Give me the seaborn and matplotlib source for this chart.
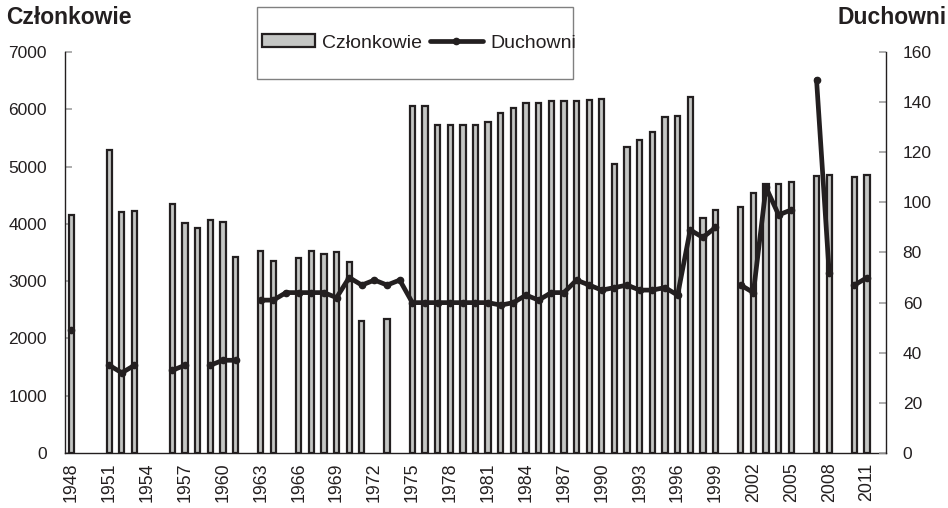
import numpy as np
import pandas as pd
import matplotlib
matplotlib.use("Agg")
import matplotlib.pyplot as plt
from matplotlib.patches import Rectangle
from matplotlib.lines import Line2D
import seaborn as sns

# data (NaN = no value that year)
years = list(range(1948, 2013))

czlonkowie_years = [1948, 1951, 1952, 1953, 1956, 1957, 1958, 1959, 1960, 1961,
                    1963, 1964, 1966, 1967, 1968, 1969, 1970, 1971, 1973,
                    1975, 1976, 1977, 1978, 1979, 1980, 1981, 1982, 1983, 1984,
                    1985, 1986, 1987, 1988, 1989, 1990, 1991, 1992, 1993, 1994,
                    1995, 1996, 1997, 1998, 1999, 2001, 2002, 2003, 2004, 2005,
                    2007, 2008, 2010, 2011]
czlonkowie = [4150, 5290, 4200, 4230, 4340, 4010, 3920, 4060, 4030, 3420,
              3530, 3360, 3410, 3530, 3480, 3510, 3330, 2300, 2340,
              6060, 6060, 5730, 5730, 5730, 5730, 5770, 5930, 6030, 6110,
              6110, 6140, 6150, 6150, 6160, 6180, 5040, 5340, 5460, 5600,
              5870, 5890, 6220, 4100, 4240, 4300, 4540, 4690, 4690, 4730,
              4830, 4860, 4820, 4860]

duchowni_years = [1948, 1951, 1952, 1953, 1956, 1957, 1959, 1960, 1961,
                  1963, 1964, 1965, 1966, 1967, 1968, 1969, 1970, 1971, 1972,
                  1973, 1974, 1975, 1976, 1977, 1978, 1979, 1980, 1981, 1982,
                  1983, 1984, 1985, 1986, 1987, 1988, 1989, 1990, 1991, 1992,
                  1993, 1994, 1995, 1996, 1997, 1998, 1999, 2001, 2002, 2003,
                  2004, 2005, 2007, 2008, 2010, 2011]
duchowni = [49, 35, 32, 35, 33, 35, 35, 37, 37,
            61, 61, 64, 64, 64, 64, 62, 70, 67, 69,
            67, 69, 60, 60, 60, 60, 60, 60, 60, 59,
            60, 63, 61, 64, 64, 69, 67, 65, 66, 67,
            65, 65, 66, 63, 89, 86, 90, 67, 64, 106,
            95, 97, 149, 72, 67, 70]

df = pd.DataFrame({"rok": [str(y) for y in years]})
df["Członkowie"] = pd.Series(czlonkowie, index=czlonkowie_years).reindex(years).values
df["Duchowni"] = pd.Series(duchowni, index=duchowni_years).reindex(years).values

INK = "#231f20"
GRAY_TICK = "#a0a0a0"
BAR_FILL = "#c4c6c4"

sns.set_theme(style="white")
plt.rcParams["font.family"] = ["Liberation Sans", "DejaVu Sans"]

fig = plt.figure(figsize=(9.48, 5.08), dpi=100)
ax = fig.add_axes([65 / 948, 55 / 508, (886 - 65) / 948, (453 - 52) / 508])

sns.barplot(data=df, x="rok", y="Członkowie", order=df["rok"].tolist(), ax=ax,
            color=BAR_FILL, saturation=1, edgecolor=INK, linewidth=1.6,
            width=0.42, errorbar=None)

ax.set_xlim(-0.5, len(years) - 0.5)
ax.set_ylim(0, 7000)
ax.set_yticks(np.arange(0, 7001, 1000))
ax.set_xlabel("")
ax.set_ylabel("")

pos = np.arange(len(years))
ax.set_xticks(pos[::3])
ax.set_xticklabels(df["rok"].tolist()[::3], rotation=90)
ax.set_xticks(np.arange(-0.5, len(years), 1), minor=True)
ax.tick_params(axis="x", which="major", length=0, pad=7, labelsize=12.8, labelcolor=INK)
ax.tick_params(axis="x", which="minor", length=6, direction="inout", color=GRAY_TICK, width=1)
ax.tick_params(axis="y", which="major", left=True, direction="in", length=5, color=GRAY_TICK,
               width=1.2, pad=13, labelsize=12.5, labelcolor=INK)

ax2 = ax.twinx()
ax2.plot(pos, df["Duchowni"].values, color=INK, linewidth=3.4, marker="o", markersize=4.5,
         solid_joinstyle="round", solid_capstyle="round")
ax2.set_ylim(0, 160)
ax2.set_yticks(np.arange(0, 161, 20))
ax2.tick_params(axis="y", which="major", right=True, direction="in", length=5, color=GRAY_TICK,
                width=1.2, pad=12, labelsize=12.5, labelcolor=INK)
ax2.grid(False)

for a in (ax, ax2):
    a.spines["top"].set_visible(False)
    for s in ("left", "right", "bottom"):
        a.spines[s].set_color(INK)
        a.spines[s].set_linewidth(1.0)
ax.spines["right"].set_visible(False)
ax2.spines["left"].set_visible(False)
ax2.spines["bottom"].set_visible(False)

fig.text(69 / 948, 1 - 17 / 508, "Członkowie", ha="center", va="center",
         fontsize=16.5, fontweight="bold", color=INK)
fig.text(947 / 948, 1 - 17 / 508, "Duchowni", ha="right", va="center",
         fontsize=16.5, fontweight="bold", color=INK)

# legend box
fig.patches.append(Rectangle((257 / 948, 1 - 79 / 508), (573 - 257) / 948, 72 / 508,
                             transform=fig.transFigure, fill=False,
                             edgecolor="#808080", linewidth=1.0))
handles = [Rectangle((0, 0), 1, 1, facecolor=BAR_FILL, edgecolor=INK, linewidth=1.6),
           Line2D([], [], color=INK, linewidth=3.4, marker="o", markersize=4.5)]
fig.legend(handles, ["Członkowie", "Duchowni"], loc="center left",
           bbox_to_anchor=(262 / 948, 1 - 43 / 508), ncol=2, frameon=False,
           fontsize=14, handlelength=2.7, handleheight=0.6, handletextpad=0.4,
           columnspacing=0.4, borderpad=0, borderaxespad=0, numpoints=1,
           labelcolor=INK)

fig.savefig("out.png", dpi=100)
plt.close(fig)
